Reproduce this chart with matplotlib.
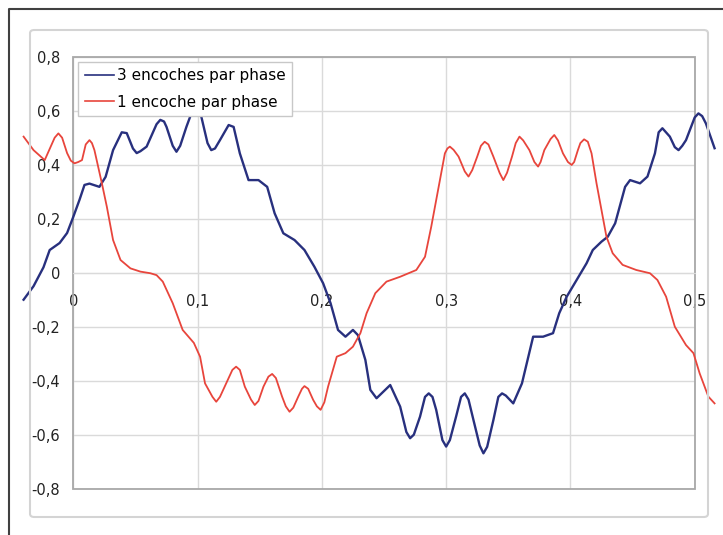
import matplotlib
matplotlib.use("Agg")
import matplotlib.pyplot as plt
from matplotlib.patches import FancyBboxPatch, Rectangle
from matplotlib.lines import Line2D
from matplotlib.ticker import FuncFormatter, MultipleLocator

# values
x_3enc = [-0.040, -0.032, -0.024, -0.019, -0.011, -0.005, 0.000, 0.005, 0.009, 0.013,
          0.021, 0.026, 0.032, 0.039, 0.043, 0.048, 0.051, 0.054, 0.059, 0.067,
          0.070, 0.073, 0.075, 0.080, 0.083, 0.086, 0.091, 0.095, 0.099, 0.103,
          0.108, 0.111, 0.114, 0.118, 0.125, 0.129, 0.134, 0.141, 0.149, 0.156,
          0.162, 0.169, 0.178, 0.186, 0.194, 0.201, 0.207, 0.213, 0.219, 0.225,
          0.229, 0.235, 0.239, 0.244, 0.255, 0.263, 0.268, 0.271, 0.274, 0.279,
          0.283, 0.286, 0.289, 0.292, 0.297, 0.300, 0.303, 0.308, 0.312, 0.315,
          0.318, 0.322, 0.327, 0.330, 0.333, 0.338, 0.342, 0.345, 0.348, 0.354,
          0.361, 0.370, 0.378, 0.386, 0.391, 0.397, 0.405, 0.413, 0.418, 0.425,
          0.430, 0.436, 0.444, 0.448, 0.456, 0.462, 0.468, 0.471, 0.474, 0.480,
          0.484, 0.487, 0.490, 0.493, 0.500, 0.503, 0.506, 0.509, 0.516]
y_3enc = [-0.10, -0.05, 0.02, 0.084, 0.11, 0.147, 0.207, 0.27, 0.325, 0.33,
          0.318, 0.355, 0.454, 0.52, 0.517, 0.46, 0.443, 0.45, 0.467, 0.55,
          0.566, 0.56, 0.54, 0.47, 0.448, 0.47, 0.54, 0.59, 0.60, 0.578,
          0.48, 0.454, 0.46, 0.491, 0.547, 0.54, 0.442, 0.343, 0.343, 0.318,
          0.22, 0.146, 0.121, 0.084, 0.022, -0.039, -0.113, -0.212, -0.237, -0.212,
          -0.231, -0.323, -0.434, -0.465, -0.416, -0.496, -0.59, -0.613, -0.60, -0.533,
          -0.46, -0.447, -0.46, -0.508, -0.62, -0.644, -0.62, -0.533, -0.46, -0.447,
          -0.47, -0.546, -0.64, -0.669, -0.645, -0.546, -0.46, -0.447, -0.455, -0.484,
          -0.41, -0.237, -0.237, -0.224, -0.15, -0.089, -0.027, 0.035, 0.084, 0.115,
          0.133, 0.183, 0.318, 0.343, 0.331, 0.356, 0.442, 0.52, 0.535, 0.504,
          0.465, 0.454, 0.47, 0.491, 0.575, 0.59, 0.58, 0.553, 0.461]

x_1enc = [-0.040, -0.032, -0.023, -0.015, -0.012, -0.009, -0.005, -0.002, 0.001, 0.004,
          0.007, 0.010, 0.013, 0.015, 0.017, 0.023, 0.027, 0.032, 0.038, 0.046,
          0.054, 0.062, 0.067, 0.072, 0.080, 0.088, 0.097, 0.102, 0.106, 0.112,
          0.115, 0.118, 0.123, 0.128, 0.131, 0.134, 0.138, 0.143, 0.146, 0.149,
          0.153, 0.157, 0.160, 0.163, 0.168, 0.171, 0.174, 0.177, 0.181, 0.184,
          0.186, 0.189, 0.193, 0.196, 0.199, 0.202, 0.205, 0.212, 0.219, 0.225,
          0.231, 0.236, 0.243, 0.252, 0.263, 0.276, 0.283, 0.288, 0.292, 0.299,
          0.301, 0.303, 0.306, 0.310, 0.315, 0.318, 0.321, 0.325, 0.328, 0.331,
          0.334, 0.338, 0.343, 0.346, 0.349, 0.353, 0.356, 0.359, 0.362, 0.367,
          0.371, 0.374, 0.376, 0.379, 0.384, 0.387, 0.390, 0.394, 0.398, 0.401,
          0.403, 0.406, 0.408, 0.411, 0.414, 0.417, 0.421, 0.425, 0.429, 0.434,
          0.442, 0.453, 0.464, 0.470, 0.477, 0.484, 0.493, 0.499, 0.504, 0.511,
          0.516]
y_1enc = [0.504, 0.454, 0.417, 0.50, 0.516, 0.50, 0.443, 0.415, 0.405, 0.41,
          0.417, 0.475, 0.491, 0.48, 0.454, 0.331, 0.244, 0.121, 0.047, 0.016,
          0.004, -0.002, -0.009, -0.033, -0.113, -0.212, -0.26, -0.311, -0.41, -0.46,
          -0.478, -0.46, -0.41, -0.36, -0.348, -0.36, -0.422, -0.47, -0.49, -0.475,
          -0.422, -0.385, -0.375, -0.39, -0.459, -0.495, -0.515, -0.50, -0.459, -0.43,
          -0.42, -0.43, -0.471, -0.495, -0.508, -0.48, -0.422, -0.311, -0.298, -0.274,
          -0.224, -0.15, -0.076, -0.033, -0.015, 0.01, 0.059, 0.17, 0.269, 0.442,
          0.46, 0.467, 0.455, 0.43, 0.375, 0.356, 0.38, 0.43, 0.47, 0.485,
          0.475, 0.43, 0.37, 0.343, 0.37, 0.43, 0.48, 0.504, 0.49, 0.454,
          0.41, 0.393, 0.41, 0.454, 0.495, 0.51, 0.49, 0.442, 0.41, 0.399,
          0.41, 0.454, 0.48, 0.494, 0.485, 0.442, 0.331, 0.232, 0.133, 0.072,
          0.029, 0.01, -0.002, -0.027, -0.089, -0.2, -0.268, -0.298, -0.373, -0.459,
          -0.484]

labels = ["3 encoches par phase", "1 encoche par phase"]

plt.rcParams['font.family'] = ['DejaVu Sans']

fig = plt.figure(figsize=(7.23, 5.35), dpi=100)

# outer frame (top and left only)
fig.add_artist(Line2D([9 / 723, 9 / 723, 1], [0, 1 - 9 / 535, 1 - 9 / 535],
                      transform=fig.transFigure, color='#404040', lw=1.5))
# chart area
fig.add_artist(FancyBboxPatch((30 / 723, 18 / 535), 678 / 723, 487 / 535,
                              boxstyle="round,pad=0,rounding_size=0.006",
                              transform=fig.transFigure, facecolor='none',
                              edgecolor='#d4d4d4', lw=1.5))

ax = fig.add_axes([73.3 / 723, 1 - 488.7 / 535, 621.4 / 723, 432 / 535])
ax.set_xlim(0, 0.5)
ax.set_ylim(-0.8, 0.8)
ax.xaxis.set_major_locator(MultipleLocator(0.1))
ax.yaxis.set_major_locator(MultipleLocator(0.2))
fmt = FuncFormatter(lambda v, p: ('%g' % round(v, 2)).replace('.', ','))
ax.xaxis.set_major_formatter(fmt)
ax.yaxis.set_major_formatter(fmt)
ax.grid(True, color='#dadada', lw=1.0)
ax.set_axisbelow(True)

for s in ['top', 'right', 'left']:
    ax.spines[s].set_visible(False)
ax.spines['bottom'].set_position(('data', 0))
ax.spines['bottom'].set_color('#dadada')
ax.add_patch(Rectangle((0, 0), 1, 1, transform=ax.transAxes, fill=False,
                       edgecolor='#a8a8a8', lw=1.3, clip_on=False, zorder=1))

ax.tick_params(axis='both', length=0, labelsize=10.5, labelcolor='#222222')
ax.tick_params(axis='x', pad=15)
ax.tick_params(axis='y', pad=9.5)

ax.plot(x_3enc, y_3enc, color='#28307e', lw=1.7, clip_on=False, label=labels[0], zorder=3)
ax.plot(x_1enc, y_1enc, color='#e8453c', lw=1.3, clip_on=False, label=labels[1], zorder=3)

leg = ax.legend(loc='upper left', bbox_to_anchor=(0.008, 0.988), borderaxespad=0,
                fontsize=11, fancybox=False, framealpha=1, edgecolor='#c8c8c8',
                handlelength=1.96, handletextpad=0.15, labelspacing=0.76, borderpad=0.41)
leg.get_frame().set_linewidth(1.0)
for ln in leg.get_lines():
    ln.set_linewidth(1.2)

fig.savefig('out.png', dpi=100)
